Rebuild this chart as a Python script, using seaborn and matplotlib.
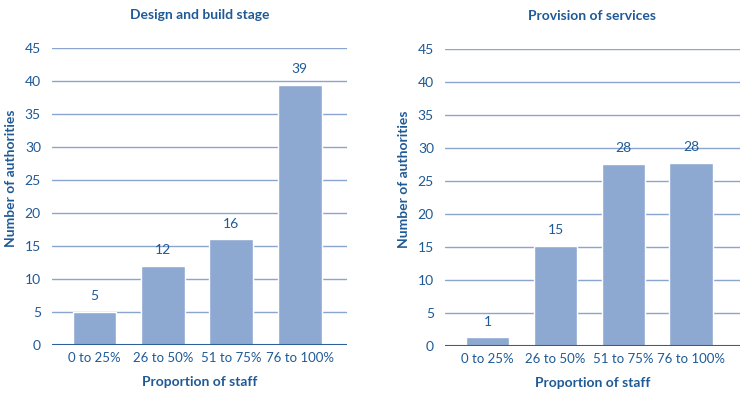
import matplotlib
matplotlib.use("Agg")
import matplotlib.pyplot as plt
import pandas as pd
import seaborn as sns

# Data
categories = ["0 to 25%", "26 to 50%", "51 to 75%", "76 to 100%"]
design_heights = [5, 12, 16, 39.4]
design_labels = ["5", "12", "16", "39"]
service_heights = [1.3, 15.2, 27.6, 27.7]
service_labels = ["1", "15", "28", "28"]
y_ticks = [0, 5, 10, 15, 20, 25, 30, 35, 40, 45]

TEXT = "#1f5a96"
GRID = "#8aa6d0"
BAR = "#8ea9d1"
BASE = "#2d5f9c"

sns.set_style("white")
plt.rcParams["font.family"] = ["Lato", "DejaVu Sans"]

fig = plt.figure(figsize=(7.43, 3.96), dpi=100)
ax1 = fig.add_axes([52 / 743, 1 - 345 / 396, 295 / 743, 297 / 396])
ax2 = fig.add_axes([445 / 743, 1 - 346 / 396, 295 / 743, 297 / 396])

panels = [
    (ax1, "Design and build stage", design_heights, design_labels, (-0.62, 3.69)),
    (ax2, "Provision of services", service_heights, service_labels, (-0.63, 3.72)),
]

for ax, title, heights, labels, xlim in panels:
    df = pd.DataFrame({"cat": categories, "val": heights})
    ax.set_axisbelow(True)
    for t in y_ticks[1:]:
        ax.axhline(t, color=GRID, lw=1, zorder=0)
    sns.barplot(data=df, x="cat", y="val", color=BAR, saturation=1,
                width=0.64, ax=ax, zorder=2)
    ax.axhline(0, color=BASE, lw=1.5, zorder=3)
    for i, (h, lab) in enumerate(zip(heights, labels)):
        ax.text(i, h + 1.5, lab, ha="center", va="bottom", color=TEXT,
                fontsize=10)
    ax.set_xlim(*xlim)
    ax.set_ylim(0, 45)
    ax.set_yticks(y_ticks)
    ax.tick_params(axis="both", length=0, colors=TEXT, labelsize=10)
    ax.tick_params(axis="x", labelsize=9.5, pad=5)
    ax.tick_params(axis="y", pad=8)
    for s in ax.spines.values():
        s.set_visible(False)
    ax.set_title(title, color=TEXT, fontsize=10, fontweight="bold", pad=21)
    ax.set_xlabel("Proportion of staff", color=TEXT, fontsize=10,
                  fontweight="bold", labelpad=9)
    ax.set_ylabel("Number of authorities", color=TEXT, fontsize=10,
                  fontweight="bold")
    ax.yaxis.set_label_coords(-0.118, 0.56)

fig.savefig("out.png", dpi=100, facecolor="white")
